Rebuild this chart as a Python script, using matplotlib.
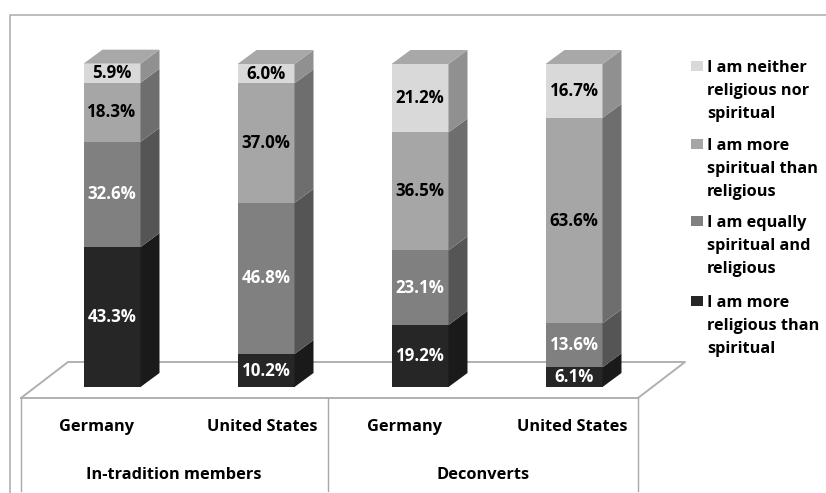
import matplotlib
matplotlib.use('Agg')
import matplotlib.pyplot as plt
from matplotlib.patches import Polygon, Rectangle

plt.rcParams['font.family'] = ['Open Sans', 'DejaVu Sans']

countries = ['Germany', 'United States', 'Germany', 'United States']
groups = ['In-tradition members', 'Deconverts']
labels = ['I am more\nreligious than\nspiritual', 'I am equally\nspiritual and\nreligious',
          'I am more\nspiritual than\nreligious', 'I am neither\nreligious nor\nspiritual']

more_religious = [43.3, 10.2, 19.2, 6.1]
equally = [32.6, 46.8, 23.1, 13.6]
more_spiritual = [18.3, 37.0, 36.5, 63.6]
neither = [5.9, 6.0, 21.2, 16.7]
series = [more_religious, equally, more_spiritual, neither]

front = ['#262626', '#808080', '#a6a6a6', '#d9d9d9']
side = ['#1a1a1a', '#555555', '#6e6e6e', '#909090']
top_col = '#a8a8a8'
text_col = ['white', 'white', 'black', 'black']

W, H = 826, 493
fig = plt.figure(figsize=(W / 100, H / 100), dpi=100)

# overlay in pixel coords for frame, floor and legend
bg = fig.add_axes([0, 0, 1, 1])
bg.set_xlim(0, W)
bg.set_ylim(H, 0)
bg.axis('off')

line = '#b0b0b0'
bg.plot([10, 10, W], [H, 15, 15], color=line, lw=1.2)
bg.plot([21, 68, 685, 638, 21], [398, 362, 362, 398, 398], color=line, lw=1.4)
for x in [21, 328, 638]:
    bg.plot([x, x], [398, 491], color='#a8a8a8', lw=1.0)

# bars: x is category position, y is percent
ax = fig.add_axes([35 / W, 1 - 387 / H, 616 / W, 323 / H])
ax.set_xlim(-0.5, 3.5)
ax.set_ylim(0, 100)
ax.axis('off')
ax.patch.set_alpha(0)

bar_w = 57 / 154
dx = 19 / 154
dy = 14 / 3.23

for i in range(4):
    left = i - bar_w / 2
    right = i + bar_w / 2
    bottom = 0
    for s in range(4):
        v = series[s][i]
        ax.add_patch(Rectangle((left, bottom), bar_w, v, fc=front[s], ec='none'))
        ax.add_patch(Polygon([(right, bottom), (right + dx, bottom + dy),
                              (right + dx, bottom + v + dy), (right, bottom + v)],
                             fc=side[s], ec='none', clip_on=False))
        ax.text(i, bottom + v / 2, f'{v:.1f}%', color=text_col[s], ha='center',
                va='center', fontsize=12.2, fontweight='bold')
        bottom += v
    ax.add_patch(Polygon([(left, bottom), (right, bottom), (right + dx, bottom + dy),
                          (left + dx, bottom + dy)], fc=top_col, ec='none', clip_on=False))

# axis labels
for x, name in zip([97, 262, 405, 572], countries):
    bg.text(x, 427, name, ha='center', va='center', fontsize=11.8, fontweight='bold')
for x, name in zip([174, 483], groups):
    bg.text(x, 475, name, ha='center', va='center', fontsize=11.8, fontweight='bold')

# legend
for y, s in zip([66, 144, 221, 301], [3, 2, 1, 0]):
    bg.add_patch(Rectangle((691, y - 5), 12, 10, fc=front[s], ec='none'))
    bg.text(707, y - 6, labels[s], ha='left', va='top', fontsize=11.7, fontweight='bold',
            linespacing=1.6)

fig.savefig('out.png', dpi=100)
